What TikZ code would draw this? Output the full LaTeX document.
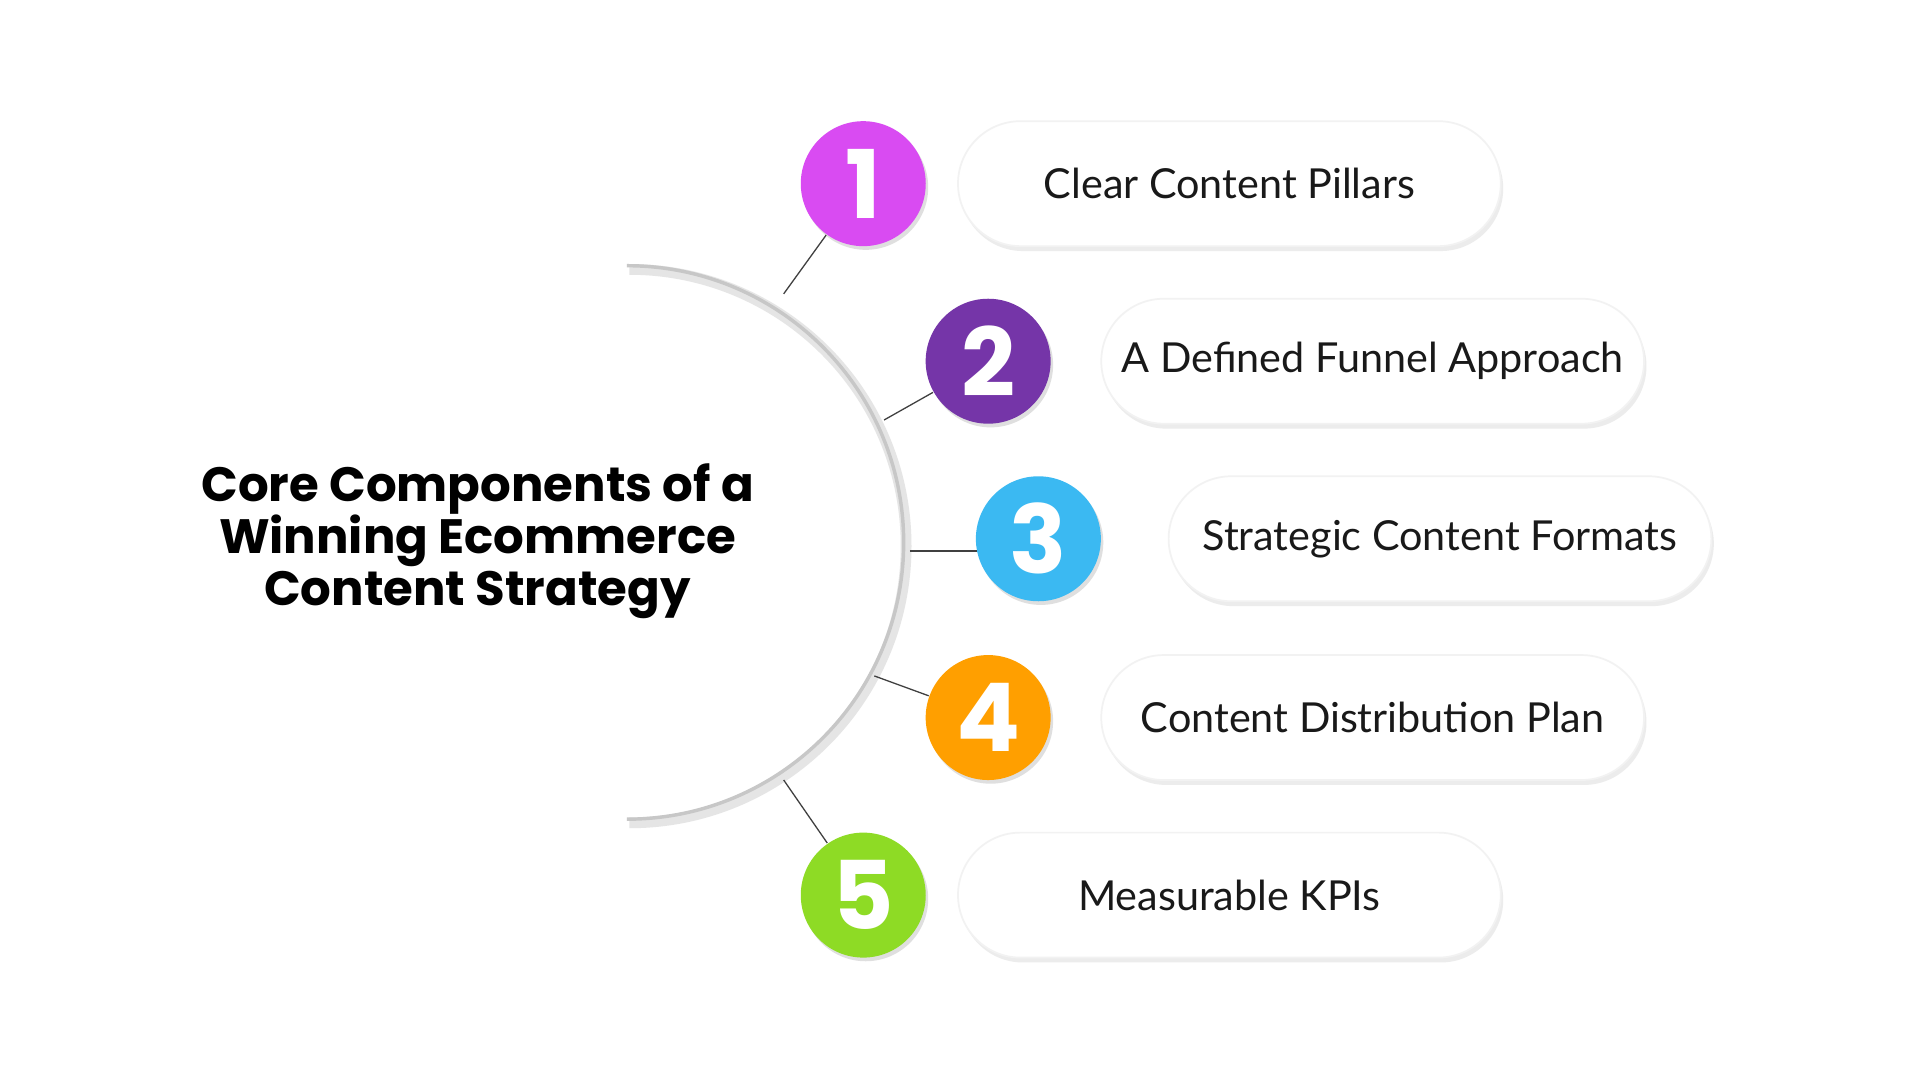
\documentclass[tikz,border=0pt]{standalone}
\usepackage{fontspec}
\setmainfont{Poppins}
\newfontfamily\lblfont{Lato}
\usetikzlibrary{shadows}
\definecolor{cA}{HTML}{D94BF2}
\definecolor{cB}{HTML}{7535A8}
\definecolor{cC}{HTML}{3BB9F2}
\definecolor{cD}{HTML}{FF9F00}
\definecolor{cE}{HTML}{8EDB25}
\tikzset{
 num/.style={circle,minimum size=1.02cm,inner sep=0pt,text=white,font=\fontsize{22}{22}\bfseries\selectfont,drop shadow={shadow xshift=0.02cm,shadow yshift=-0.03cm,opacity=0.25,fill=gray}},
 pill/.style={rounded corners=0.51cm,minimum width=4.43cm,minimum height=1.02cm,fill=white,draw=black!5,font=\lblfont\fontsize{9.6}{12}\selectfont,text=black!90,drop shadow={shadow xshift=0.02cm,shadow yshift=-0.04cm,opacity=0.15,fill=gray}},
 conn/.style={draw=black!75,line width=0.3pt}
}
\begin{document}
\begin{tikzpicture}[x=0.01cm,y=-0.01cm]
\useasboundingbox[fill=white] (0,0) rectangle (1568,882);
% big arc
\draw[black!10,line width=2.5pt] (514,220) arc[start angle=-90,end angle=90,radius=226];
\draw[black!22,line width=0.8pt] (512,217) arc[start angle=-90,end angle=90,radius=226];
\node[align=center,font=\fontsize{11.2}{12}\bfseries\selectfont] (title) at (390,442) {Core Components of a\\Winning Ecommerce\\Content Strategy};
\node[num,fill=cA] (n1) at (705,150) {1};
\node[num,fill=cB] (n2) at (807,295) {2};
\node[num,fill=cC] (n3) at (848,440) {3};
\node[num,fill=cD] (n4) at (807,586) {4};
\node[num,fill=cE] (n5) at (705,731) {5};
\node[pill] (p1) at (1004,150) {Clear Content Pillars};
\node[pill] (p2) at (1121,295) {A Defined Funnel Approach};
\node[pill] (p3) at (1176,440) {Strategic Content Formats};
\node[pill] (p4) at (1121,586) {Content Distribution Plan};
\node[pill] (p5) at (1004,731) {Measurable KPIs};
\coordinate (a1) at (640,240);
\coordinate (a2) at (722,343);
\coordinate (a3) at (743,450);
\coordinate (a4) at (714,552);
\coordinate (a5) at (640,637);
\draw[conn] (a1) -- (n1);
\draw[conn] (a2) -- (n2);
\draw[conn] (a3) -- (798,450);
\draw[conn] (a4) -- (n4);
\draw[conn] (a5) -- (n5);
\end{tikzpicture}
\end{document}
